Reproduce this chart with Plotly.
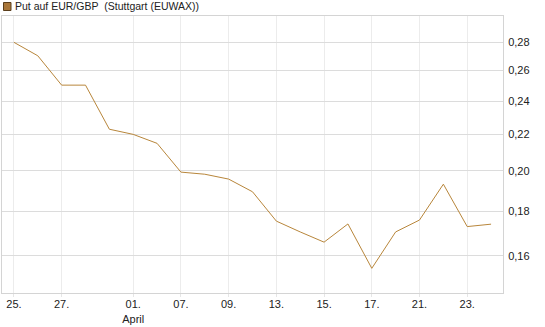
import plotly.graph_objects as go

# categories (trading days) and tick labels
days = ["25.03", "26.03", "27.03", "28.03", "29.03", "01.04", "02.04", "07.04",
        "08.04", "09.04", "10.04", "13.04", "14.04", "15.04", "16.04", "17.04",
        "18.04", "21.04", "22.04", "23.04", "24.04"]
prices = [0.280, 0.2703, 0.2503, 0.2503, 0.2230, 0.2200, 0.2149, 0.1993,
          0.1982, 0.1957, 0.1893, 0.1753, 0.1704, 0.1659, 0.1740, 0.1549,
          0.1704, 0.1758, 0.1931, 0.1728, 0.1739]
tick_days = ["25.03", "27.03", "01.04", "07.04", "09.04", "13.04", "15.04",
             "17.04", "21.04", "23.04"]
tick_text = ["25.", "27.", "01.<br>April", "07.", "09.", "13.", "15.",
             "17.", "21.", "23."]
y_ticks = [0.16, 0.18, 0.20, 0.22, 0.24, 0.26, 0.28]
series_name = "Put auf EUR/GBP\u00a0 (Stuttgart (EUWAX))"

line_color = "#B8863B"
font = "Liberation Sans, Arial, sans-serif"

fig = go.Figure()
fig.add_trace(go.Scatter(
    x=days, y=prices, mode="lines",
    line=dict(color=line_color, width=1),
    showlegend=False, hoverinfo="skip",
))

fig.update_layout(
    width=545, height=327,
    margin=dict(l=2, r=42, t=16, b=34),
    paper_bgcolor="white", plot_bgcolor="white",
    separators=",.",
    font=dict(family=font, size=11, color="#222222"),
    showlegend=False,
    xaxis=dict(
        type="category", categoryorder="array", categoryarray=days,
        range=[-0.5, len(days) - 0.5],
        tickmode="array", tickvals=tick_days, ticktext=tick_text,
        showgrid=True, gridcolor="#ececec", gridwidth=1,
        ticks="outside", ticklen=3, tickcolor="#e6e6e6",
        ticklabelstandoff=-2,
        showline=True, linecolor="#d4d4d4", linewidth=1, mirror=True,
        tickfont=dict(size=11, color="#222222"),
        zeroline=False, fixedrange=True,
    ),
    yaxis=dict(
        type="log", side="right",
        range=[-0.838, -0.5229],
        tickmode="array", tickvals=y_ticks, tickformat=".2f",
        showgrid=True, gridcolor="#dcdcdc", gridwidth=1,
        ticks="", ticklabelstandoff=2,
        showline=True, linecolor="#d4d4d4", linewidth=1, mirror=True,
        tickfont=dict(size=11, color="#222222"),
        zeroline=False, fixedrange=True,
    ),
    shapes=[dict(
        type="rect", xref="paper", yref="paper",
        x0=1.5 / 501, x1=9 / 501, y0=1 + 5.5 / 277, y1=1 + 13.5 / 277,
        fillcolor="#A8763A", line=dict(color="#5a3e1c", width=1),
    )],
    annotations=[dict(
        text=series_name, xref="paper", yref="paper",
        x=11 / 501, y=1 + 10 / 277, xanchor="left", yanchor="middle",
        showarrow=False, font=dict(family=font, size=10.5, color="#222222"),
    )],
)

fig.write_html("out.html")
